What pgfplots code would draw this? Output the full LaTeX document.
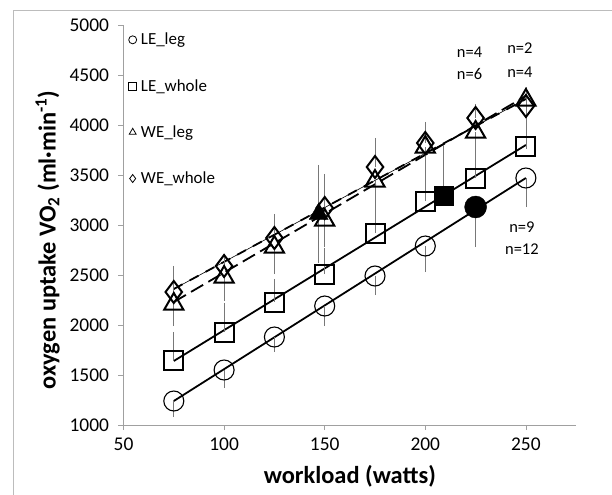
\documentclass[border=0pt]{standalone}
\usepackage{fontspec}
\setmainfont{Carlito}
\usepackage{pgfplots}
\pgfplotsset{compat=1.18}
\definecolor{axgray}{RGB}{160,160,160}
\definecolor{errgray}{RGB}{120,120,120}

% LE_leg (open circles), error bars down
\pgfplotstableread{
x   y    e
75  1240 120
100 1550 140
125 1880 110
150 2190 160
175 2490 150
200 2790 220
250 3470 250
}\leleg
% LE_whole (open squares), error bars up
\pgfplotstableread{
x   y    e
75  1650 240
100 1930 250
125 2230 190
150 2510 220
175 2920 230
200 3240 200
225 3470 150
250 3790 100
}\lewhole
% WE_leg (open triangles), error bars down
\pgfplotstableread{
x   y    e
75  2210 180
100 2480 200
125 2780 230
150 3050 230
175 3440 280
200 3780 270
225 3930 330
250 4250 450
}\weleg
% WE_whole (open diamonds), error bars up
\pgfplotstableread{
x   y    e
75  2330 220
100 2590 60
125 2870 200
150 3170 300
175 3580 250
200 3820 170
225 4070 100
250 4190 150
}\wewhole

\begin{document}
\begin{tikzpicture}
\useasboundingbox (-123.5bp,-70bp) rectangle (488.5bp,425bp);
\draw[axgray!70, line width=0.8bp] (-110.5bp,-90bp) -- (-110.5bp,415bp) -- (520bp,415bp);
\begin{axis}[
    at={(0,0)}, anchor=south west,
    scale only axis, width=452.7bp, height=400bp,
    xmin=50, xmax=275, ymin=1000, ymax=5000,
    axis lines=left,
    axis line style={-, axgray, line width=0.8bp},
    xtick={50,100,...,250}, ytick={1000,1500,...,5000},
    tick style={axgray, line width=0.8bp},
    tick align=outside, major tick length=5bp,
    /pgf/number format/assume math mode=true,
    /pgf/number format/1000 sep={},
    scaled ticks=false,
    ticklabel style={font=\fontsize{19.5}{22}\selectfont},
    xticklabel style={yshift=-4bp},
    yticklabel style={xshift=-6bp},
    xlabel={\bfseries workload (watts)},
    ylabel={\bfseries oxygen uptake VO\textsubscript{2} (ml·min\textsuperscript{-1})},
    label style={font=\fontsize{24.5}{28}\selectfont},
    xlabel style={at={(axis description cs:0.5,-0.145)}, anchor=base},
    ylabel style={at={(axis description cs:-0.150,0.4625)}, anchor=base},
    legend style={at={(axis description cs:0,1)}, anchor=north west,
        draw=none, fill=none, font=\fontsize{17}{20}\selectfont,
        row sep=29bp, inner sep=2bp, xshift=3bp, yshift=-4bp},
    legend cell align=left,
    legend image code/.code={\path[draw=none] (0cm,0cm) -- (0.36cm,0cm);
        \draw[#1, mark size=4bp, line width=0.8bp] plot coordinates {(0.14cm,0cm)};},
    error bars/error bar style={errgray, line width=0.8bp},
    error bars/error mark options={errgray, line width=0.8bp, mark size=4bp},
]
% trend lines
\addplot[black, line width=1.8bp, forget plot] coordinates {(75,1240) (250,3470)};
\addplot[black, line width=1.8bp, forget plot] coordinates {(75,1640) (250,3800)};
\addplot[black, line width=1.8bp, dash pattern=on 14bp off 6bp, forget plot] coordinates {(75,2230) (250,4290)};
\addplot[black, line width=0.6bp, forget plot] coordinates {(75,2360) (250,4260)};
\addplot[black, line width=1.8bp, dash pattern=on 10bp off 8bp, forget plot] coordinates {(75,2360) (250,4260)};

% main series
\addplot[only marks, mark=o, mark size=10bp, line width=1.1bp,
    error bars/.cd, y dir=minus, y explicit]
    table[x=x, y=y, y error=e] {\leleg};
\addlegendentry{LE\_leg}
\addplot[only marks, mark=square, mark size=9.5bp, line width=2bp,
    error bars/.cd, y dir=plus, y explicit]
    table[x=x, y=y, y error=e] {\lewhole};
\addlegendentry{LE\_whole}
\addplot[only marks, mark=triangle, mark size=11bp, line width=2bp,
    error bars/.cd, y dir=minus, y explicit]
    table[x=x, y=y, y error=e] {\weleg};
\addlegendentry{WE\_leg}
\addplot[only marks, mark=diamond, mark size=11bp, line width=2bp,
    error bars/.cd, y dir=plus, y explicit]
    table[x=x, y=y, y error=e] {\wewhole};
\addlegendentry{WE\_whole}

% filled points
\addplot[only marks, mark=*, mark size=11bp, black, forget plot,
    error bars/.cd, y dir=minus, y explicit]
    coordinates {(225,3180) +- (0,360)};
\addplot[only marks, mark=square*, mark size=9.5bp, black, forget plot,
    error bars/.cd, y dir=plus, y explicit]
    coordinates {(209,3290) +- (0,470)};
\addplot[only marks, mark=triangle*, mark size=11bp, black, forget plot,
    error bars/.cd, y dir=both, y explicit]
    coordinates {(147,3110) +- (0,450)};

% sample sizes
\node[font=\fontsize{16.5}{19}\selectfont] at (axis cs:222,4730) {n=4};
\node[font=\fontsize{16.5}{19}\selectfont] at (axis cs:222,4510) {n=6};
\node[font=\fontsize{16.5}{19}\selectfont] at (axis cs:247,4770) {n=2};
\node[font=\fontsize{16.5}{19}\selectfont] at (axis cs:247,4530) {n=4};
\node[font=\fontsize{16.5}{19}\selectfont] at (axis cs:248,2980) {n=9};
\node[font=\fontsize{16.5}{19}\selectfont] at (axis cs:248,2760) {n=12};
\end{axis}
\end{tikzpicture}
\end{document}
